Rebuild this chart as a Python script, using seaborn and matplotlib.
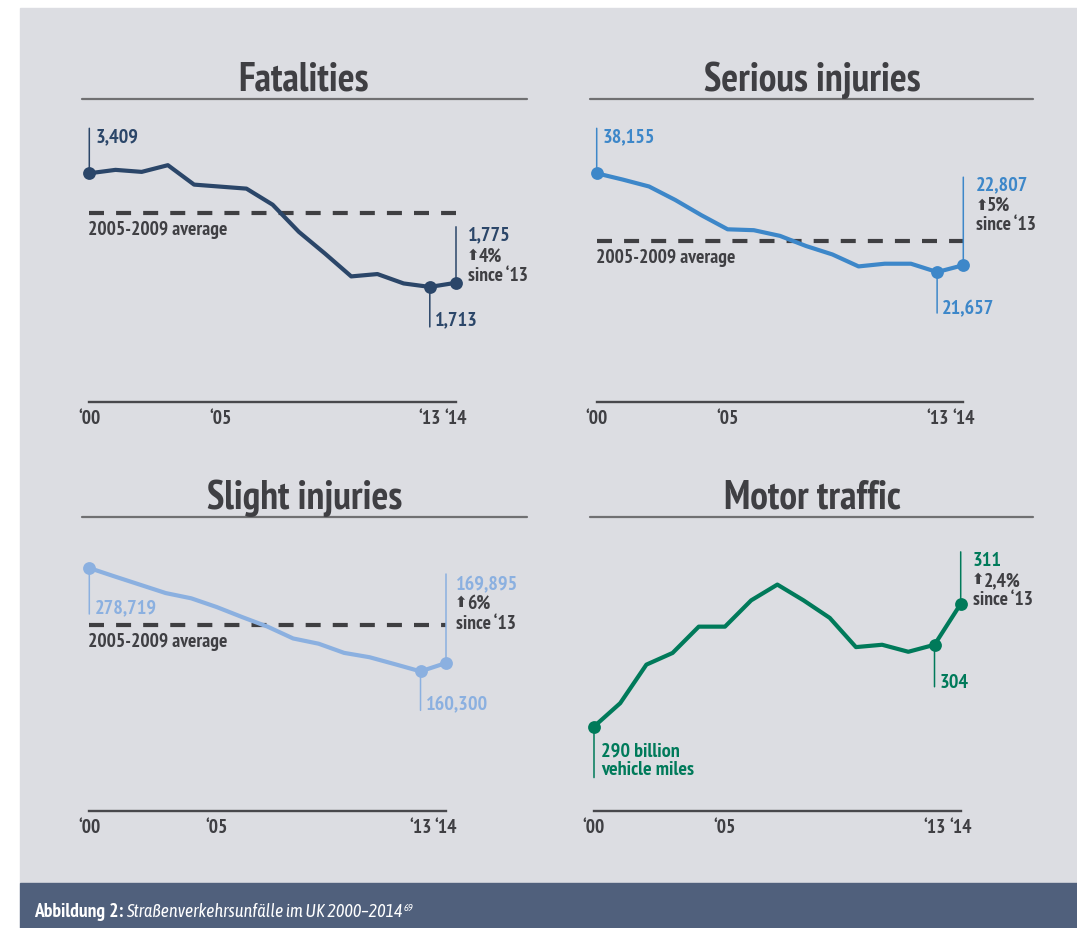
import matplotlib
matplotlib.use("Agg")
import matplotlib.pyplot as plt
import seaborn as sns
from matplotlib.patches import Rectangle
from matplotlib.lines import Line2D

# -------------------------------
# DATA
# -------------------------------
years = list(range(2000, 2015))
fatalities = [3409, 3460, 3430, 3530, 3240, 3210, 3180, 2940, 2535, 2210, 1870, 1905, 1765, 1713, 1775]
serious = [38155, 37100, 35950, 33700, 31150, 28800, 28650, 27700, 26000, 24600, 22600, 23050, 23050, 21657, 22807]
slight = [278719, 269000, 259500, 250000, 244000, 234000, 222500, 211500, 198000, 192000, 181500, 176500, 168500, 160300, 169895]
motor = [290, 294.0, 300.6, 302.6, 307.1, 307.1, 311.6, 314.3, 311.6, 308.6, 303.6, 304.0, 302.8, 304, 311]

avg_fatalities = 2820
avg_serious = 26800
avg_slight = 213500

tick_years = [2000, 2005, 2013, 2014]
tick_labels = ["\u201800", "\u201805", "\u201813", "\u201814"]
marked_years = [2000, 2013, 2014]

titles = ["Fatalities", "Serious injuries", "Slight injuries", "Motor traffic"]
change_labels = ["4%", "5%", "6%", "2,4%"]
start_labels = ["3,409", "38,155", "278,719", "290 billion\nvehicle miles"]
end_labels = ["1,775", "22,807", "169,895", "311"]
low_labels = ["1,713", "21,657", "160,300", "304"]
avg_label = "2005-2009 average"
since_label = "since \u201813"
caption_bold = "Abbildung 2:"
caption_italic = "Straßenverkehrsunfälle im UK 2000\u20132014"
caption_note = "69"

# -------------------------------
# STYLE
# -------------------------------
W, H = 1077, 929
BG = "#dcdde2"
FOOT = "#50607c"
TXT = "#3f3f43"
C_FAT = "#2b4669"
C_SER = "#3d87c9"
C_SLI = "#8bb0e0"
C_MOT = "#007a5a"

sns.set_theme(style="white")
plt.rcParams["font.family"] = ["PT Sans Narrow", "Fira Sans Condensed", "Asap Condensed", "DejaVu Sans"]
plt.rcParams["font.weight"] = "bold"
ITALIC_FAMILY = ["Asap Condensed", "Fira Sans Condensed", "DejaVu Sans"]


def fx(px):
    return px / W


def fy(py):
    return 1 - py / H


fig = plt.figure(figsize=(W / 100, H / 100), dpi=100)
fig.patch.set_facecolor("white")
fig.add_artist(Rectangle((fx(20), fy(884)), 1 - fx(20), fy(9) - fy(884),
                         transform=fig.transFigure, color=BG, zorder=0))
fig.add_artist(Rectangle((fx(20), 0), 1 - fx(20), fy(884), transform=fig.transFigure, color=FOOT, zorder=0))


def make_axes(x0, x1, ybot, ytop):
    ax = fig.add_axes([fx(x0), fy(ybot), fx(x1) - fx(x0), fy(ytop) - fy(ybot)])
    ax.set_facecolor("none")
    for s in ["top", "left", "right"]:
        ax.spines[s].set_visible(False)
    ax.spines["bottom"].set_color("#48484c")
    ax.spines["bottom"].set_linewidth(1.7)
    ax.set_xlim(2000, 2014)
    ax.set_xticks(tick_years)
    ax.set_xticklabels(tick_labels, fontsize=14, fontweight="bold", color=TXT)
    ax.tick_params(axis="x", length=0, pad=5)
    ax.set_yticks([])
    return ax


def lbl(ax, x, y, text, dx, dy, color, size=14.5, **kw):
    return ax.annotate(text, xy=(x, y), xytext=(dx, dy), textcoords="offset pixels",
                       color=color, fontsize=size, fontweight="bold", ha="left", va="center",
                       linespacing=1.0, zorder=6, annotation_clip=False, **kw)


def leader(ax, x, y, length, color):
    ax.annotate("", xy=(x, y), xytext=(0, length), textcoords="offset pixels",
                arrowprops=dict(arrowstyle="-", color=color, lw=1.1, shrinkA=0, shrinkB=0),
                zorder=2, annotation_clip=False)


def title(text, cx, base, x0, x1, uline):
    fig.text(fx(cx), fy(base), text, ha="center", va="baseline", fontsize=28.5,
             fontweight="bold", color=TXT)
    fig.add_artist(Line2D([fx(x0), fx(x1)], [fy(uline), fy(uline)], color="#707072",
                          lw=1.6, transform=fig.transFigure))


def series(ax, values, color):
    sns.lineplot(x=years, y=values, color=color, linewidth=3, ax=ax, zorder=3, clip_on=False)
    mk = [values[years.index(y)] for y in marked_years]
    sns.scatterplot(x=marked_years, y=mk, color=color, s=85, linewidth=0, ax=ax, zorder=5, clip_on=False)


def average(ax, value):
    ax.axhline(value, color="#3f3f42", lw=3, linestyle=(0, (3.6, 2.9)), dash_capstyle="butt", zorder=1)
    lbl(ax, 2000, value, avg_label, -1, -16, TXT, 14)


# -------------------------------
# PANELS
# -------------------------------
panels = [
    # values, colour, avg, x-range px, y-range px, ylim
    (fatalities, C_FAT, avg_fatalities, (89.3, 456), (402.7, 130), (0, 4070)),
    (serious, C_SER, avg_serious, (596.7, 963.3), (402.7, 130), (0, 45555)),
    (slight, C_SLI, avg_slight, (89.3, 446), (812.3, 540), (0, 311950)),
    (motor, C_MOT, None, (594, 960.7), (812.3, 540), (275.5, 322.1)),
]

title_pos = [(304, 90.7, 82, 527, 100), (812, 90.7, 590, 1033, 100),
             (305, 508.7, 82, 527, 518), (812, 508.7, 590, 1033, 518)]

for i, (vals, col, avg, xr, yr, yl) in enumerate(panels):
    ax = make_axes(xr[0], xr[1], yr[0], yr[1])
    ax.set_ylim(*yl)
    series(ax, vals, col)
    if avg is not None:
        average(ax, avg)
    title(titles[i], *title_pos[i])

    v0, v13, v14 = vals[0], vals[13], vals[14]
    # start label
    if i < 2:
        leader(ax, 2000, v0, 45, col)
        lbl(ax, 2000, v0, start_labels[i], 6, 37, col)
    elif i == 2:
        leader(ax, 2000, v0, -46, col)
        lbl(ax, 2000, v0, start_labels[i], 6, -39, col)
    else:
        leader(ax, 2000, v0, -51, col)
        lbl(ax, 2000, v0, start_labels[i], 7, -33, col)

    # low point 2013
    lens13 = [-40, -41, -39, -42]
    off13 = [-32, -36, -33, -37]
    leader(ax, 2013, v13, lens13[i], col)
    lbl(ax, 2013, v13, low_labels[i], 5, off13[i], col)

    # 2014 value and change
    lens14 = [56, 88, 89, 52]
    offs14 = [(12, 48, 27, 8), (13, 81, 60, 41), (10, 79, 60, 40), (12, 44, 24, 5)]
    dx, d1, d2, d3 = offs14[i]
    leader(ax, 2014, v14, lens14[i], col)
    lbl(ax, 2014, v14, end_labels[i], dx, d1, col)
    lbl(ax, 2014, v14, "\u2b06", dx - 1, d2 + 1, TXT, 10.5, family="DejaVu Sans")
    lbl(ax, 2014, v14, change_labels[i], dx + 11, d2, TXT, 14)
    lbl(ax, 2014, v14, since_label, dx, d3, TXT, 14)

# -------------------------------
# CAPTION
# -------------------------------
t1 = fig.text(fx(34), fy(917), caption_bold, color="white", fontsize=14,
              fontweight="bold", ha="left", va="baseline")
t2 = plt.annotate(caption_italic, xy=(1, 0), xycoords=t1, xytext=(3, 0), textcoords="offset pixels",
                  color="white", fontsize=13, fontstyle="italic", fontweight="normal",
                  family=ITALIC_FAMILY, ha="left", va="bottom", annotation_clip=False)
plt.annotate(caption_note, xy=(1, 1), xycoords=t2, xytext=(1, -1), textcoords="offset pixels",
             color="white", fontsize=7.5, fontstyle="italic", fontweight="normal",
             family=ITALIC_FAMILY, ha="left", va="top", annotation_clip=False)

plt.savefig("out.png", dpi=100, facecolor=fig.get_facecolor())
